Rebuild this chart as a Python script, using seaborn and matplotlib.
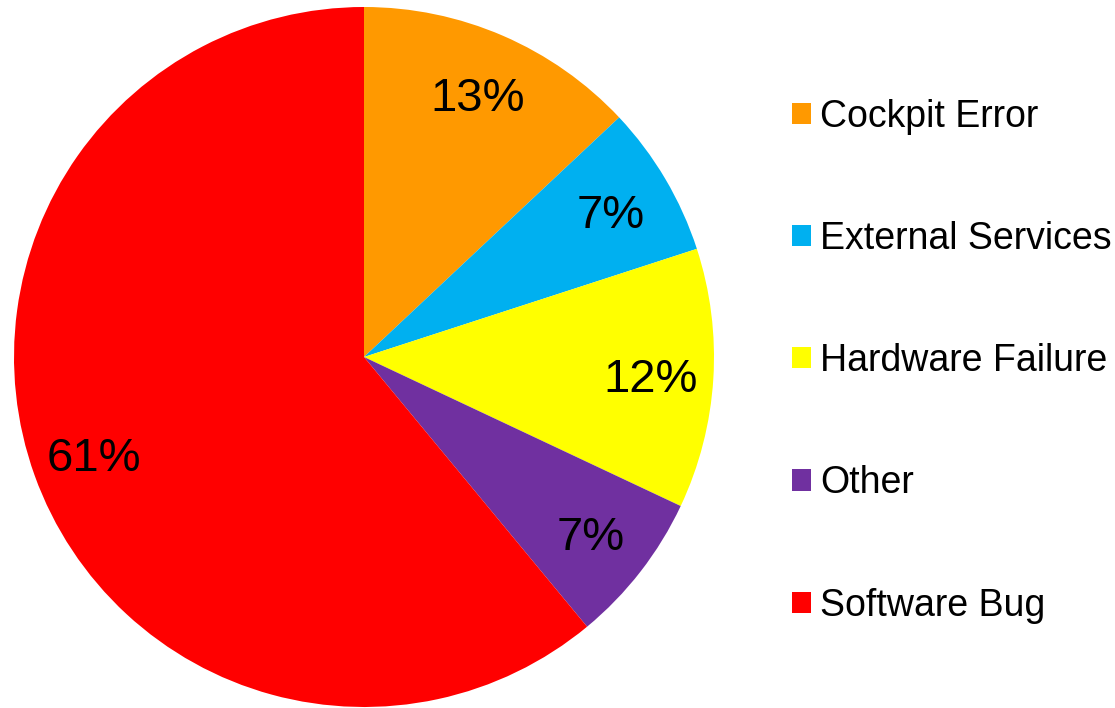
import matplotlib
matplotlib.use("Agg")
import matplotlib.pyplot as plt
import seaborn as sns

categories = ["Cockpit Error", "External Services", "Hardware Failure", "Other", "Software Bug"]
values = [13, 7, 12, 7, 61]
colors = ["#FF9900", "#00B0F0", "#FFFF00", "#7030A0", "#FF0000"]

sns.set_theme(style="white")
plt.rcParams["font.family"] = ["Liberation Sans", "DejaVu Sans"]
plt.rcParams["text.color"] = "black"

W, H = 1115, 708
fig = plt.figure(figsize=(W / 100, H / 100), dpi=100)
cx, cy, r = 364, 357, 350
ax = fig.add_axes([(cx - r) / W, (H - cy - r) / H, 2 * r / W, 2 * r / H])

wedges, texts, autotexts = ax.pie(
    values, colors=colors, startangle=90, counterclock=False,
    autopct=lambda p: f"{p:.0f}%", pctdistance=0.82,
    wedgeprops=dict(linewidth=0), textprops=dict(fontsize=34, color="black"),
)
for t in autotexts:
    t.set_verticalalignment("center_baseline")
ax.set_xlim(-1, 1)
ax.set_ylim(-1, 1)
ax.set_aspect("equal")

leg = fig.legend(
    wedges, categories, loc="center left", bbox_to_anchor=(792 / W, 1 - 361 / H),
    frameon=False, fontsize=27, handlelength=0.5, handleheight=0.5,
    handletextpad=0.24, labelspacing=2.3, borderpad=0, borderaxespad=0,
)
for t in leg.get_texts():
    t.set_color("black")

fig.savefig("out.png", dpi=100)
